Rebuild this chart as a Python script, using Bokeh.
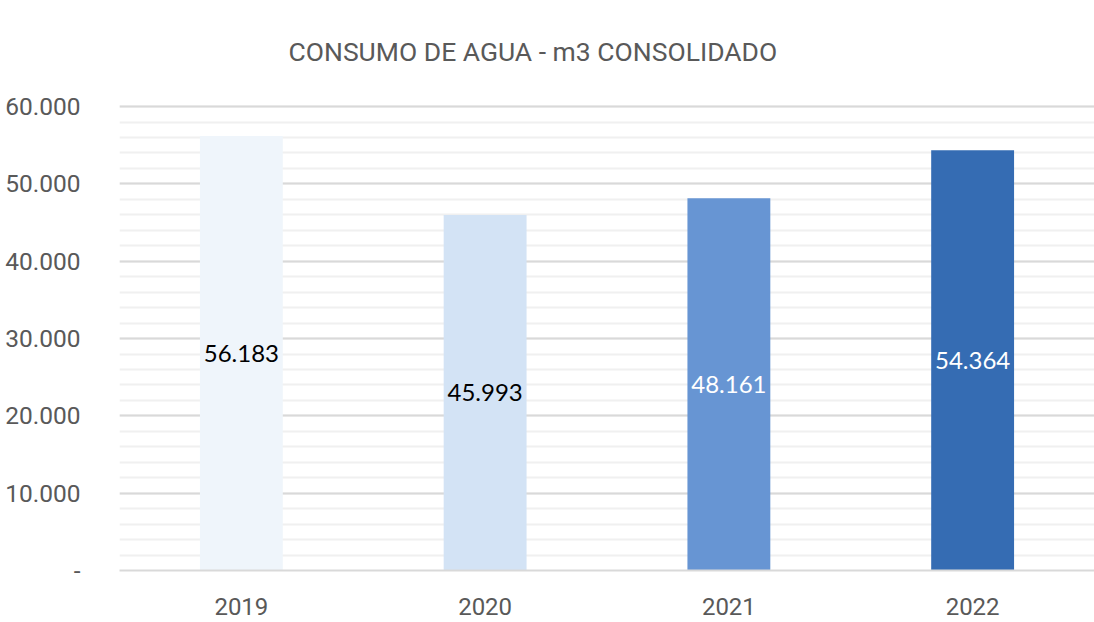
from bokeh.plotting import figure
from bokeh.models import ColumnDataSource, FixedTicker, Range1d, FactorRange
from bokeh.core.properties import value
from bokeh.embed import file_html
from bokeh.resources import INLINE

title_text = "CONSUMO DE AGUA - m3 CONSOLIDADO"
years = ["2019", "2020", "2021", "2022"]
consumo = [56183, 45993, 48161, 54364]
labels = ["56.183", "45.993", "48.161", "54.364"]
bar_colors = ["#eff5fb", "#d3e3f5", "#6795d3", "#356cb3"]
label_colors = ["#000000", "#000000", "#ffffff", "#ffffff"]
y_ticks = [0, 10000, 20000, 30000, 40000, 50000, 60000]
y_tick_labels = ["-", "10.000", "20.000", "30.000", "40.000", "50.000", "60.000"]
minor = list(range(0, 60001, 2000))

src = ColumnDataSource(dict(
    year=years, v=consumo, half=[c / 2 for c in consumo],
    lab=labels, col=bar_colors, lcol=label_colors,
))

p = figure(
    x_range=FactorRange(*years), y_range=Range1d(0, 60400),
    width=1094, height=622, output_backend="svg", toolbar_location=None,
    min_border_left=119, min_border_right=0, min_border_bottom=52,
    min_border_top=103,
)
p.title.text = title_text
p.title.text_font = "Roboto"
p.title.text_font_size = "26.5px"
p.title.text_font_style = "normal"
p.title.text_color = "#595959"
p.title.align = "left"
p.title.vertical_align = "top"
p.title.offset = 169
p.title.standoff = 70

p.vbar(x="year", top="v", width=0.34, source=src, fill_color="col", line_color=None)
p.text(x="year", y="half", text="lab", source=src, text_color="lcol",
       text_align="center", text_baseline="middle",
       text_font=value("Lato"), text_font_size="24px")

p.outline_line_color = None
p.background_fill_color = "white"
p.border_fill_color = "white"

p.yaxis.ticker = FixedTicker(ticks=y_ticks, minor_ticks=minor)
p.yaxis.major_label_overrides = {t: l for t, l in zip(y_ticks, y_tick_labels)}
p.yaxis.axis_line_color = None
p.yaxis.major_tick_line_color = None
p.yaxis.minor_tick_line_color = None
p.yaxis.major_label_text_font = "Roboto"
p.yaxis.major_label_text_font_size = "24.5px"
p.yaxis.major_label_text_color = "#595959"
p.yaxis.major_label_standoff = 33

p.xaxis.axis_line_color = "#d9d9d9"
p.xaxis.axis_line_width = 2
p.xaxis.major_tick_line_color = None
p.xaxis.minor_tick_line_color = None
p.xaxis.major_label_text_font = "Roboto"
p.xaxis.major_label_text_font_size = "24px"
p.xaxis.major_label_text_color = "#595959"
p.xaxis.major_label_standoff = 21

p.xgrid.grid_line_color = None
p.ygrid.grid_line_color = "#d9d9d9"
p.ygrid.grid_line_width = 2
p.ygrid.minor_grid_line_color = "#f0f0f0"
p.ygrid.minor_grid_line_width = 2
p.ygrid.level = "underlay"

open("out.html", "w").write(file_html(p, INLINE))
